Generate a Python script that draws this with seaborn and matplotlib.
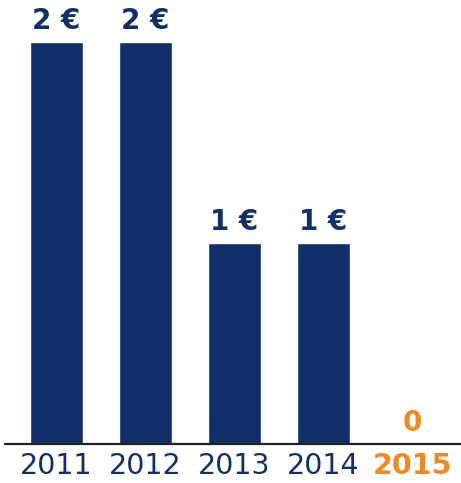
import matplotlib
matplotlib.use("Agg")
import matplotlib.pyplot as plt
import seaborn as sns
import pandas as pd

years = ["2011", "2012", "2013", "2014", "2015"]
values = [2, 2, 1, 1, 0]
labels = ["2 €", "2 €", "1 €", "1 €", "0"]

NAVY = "#11306a"
ORANGE = "#ef8a22"

sns.set_style("white")
plt.rcParams['font.family'] = ['DejaVu Sans']

df = pd.DataFrame({"year": years, "value": values})

W, H, DPI = 461, 483, 100
fig = plt.figure(figsize=(W / DPI, H / DPI), dpi=DPI)
base_px = 39
ax = fig.add_axes([0, base_px / H, 1, (H - base_px) / H])

sns.barplot(data=df, x="year", y="value", order=years, color=NAVY,
            width=0.6, saturation=1, ax=ax)

unit = 89.0
ax.set_xlim(-56.5 / unit, (W - 56.5) / unit)
ax.set_ylim(0, (H - base_px) / 201.0)

for s in ax.spines.values():
    s.set_visible(False)
ax.axhline(0, xmin=5 / W, xmax=1, color="#222222", lw=1.6, clip_on=False)

ax.set_yticks([])
ax.set_xlabel("")
ax.set_ylabel("")
ax.set_xticks(range(len(years)))
ax.set_xticklabels(years, fontsize=20.5)
ax.tick_params(axis="x", length=0, pad=6)
for t, y in zip(ax.get_xticklabels(), years):
    if y == "2015":
        t.set_color(ORANGE)
        t.set_fontweight("bold")
    else:
        t.set_color(NAVY)

for i, (v, lab) in enumerate(zip(values, labels)):
    col = ORANGE if years[i] == "2015" else NAVY
    ax.annotate(lab, xy=(i, v), xytext=(0, 15), textcoords="offset points",
                ha="center", va="center", fontsize=20, fontweight="bold",
                color=col)

fig.savefig("out.png", dpi=DPI)
